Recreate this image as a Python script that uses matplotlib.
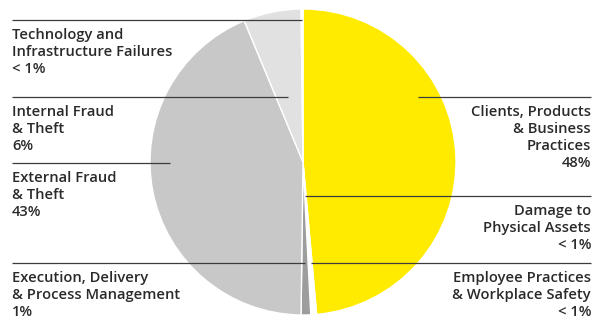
import matplotlib.pyplot as plt

# loss share by event type, clockwise from 12 o'clock
names = ["Clients, Products\n& Business\nPractices",
         "Damage to\nPhysical Assets",
         "Employee Practices\n& Workplace Safety",
         "Execution, Delivery\n& Process Management",
         "External Fraud\n& Theft",
         "Internal Fraud\n& Theft",
         "Technology and\nInfrastructure Failures"]
shares = [48, 0.3, 0.3, 1, 43, 6, 0.2]
share_text = ["48%", "< 1%", "< 1%", "1%", "43%", "6%", "< 1%"]
colors = ["#ffeb00", "#ffffff", "#ffffff", "#9d9d9d", "#c8c8c8", "#e1e1e1", "#ffffff"]

# leader layout (pixel space): which side, line height, inner end of the line
sides = ["right", "right", "right", "left", "left", "left", "left"]
line_y = [97, 196, 263, 263, 163, 97, 20]
inner_x = [418, 305, 311, 305, 170, 288, 302]

plt.rcParams['font.family'] = ['Open Sans', 'DejaVu Sans']

W, H = 593, 320
fig = plt.figure(figsize=(W / 100, H / 100), dpi=100)
ax = fig.add_axes([0, 0, 1, 1])

ax.pie(shares, colors=colors, center=(303, 162), radius=153,
       startangle=270, counterclock=True, frame=True,
       wedgeprops=dict(edgecolor='white', linewidth=1.0))
# y grows downward, so counterclock=True turns clockwise on screen
ax.set_xlim(0, W)
ax.set_ylim(H, 0)
ax.set_aspect('auto')
ax.axis('off')

for name, pct, side, y, x_in in zip(names, share_text, sides, line_y, inner_x):
    if side == "left":
        x0, x1, tx, ha = 12, x_in, 12, 'left'
    else:
        x0, x1, tx, ha = x_in, 591, 591, 'right'
    ax.plot([x0, x1], [y, y], color='#3c3c3c', lw=0.9, solid_capstyle='butt')
    ax.text(tx, y + 8, name + "\n" + pct, ha=ha, va='top', fontsize=10.6,
            fontweight='semibold', color='#2a2a2a', linespacing=1.26,
            multialignment=ha)

fig.savefig('out.png', dpi=100)
